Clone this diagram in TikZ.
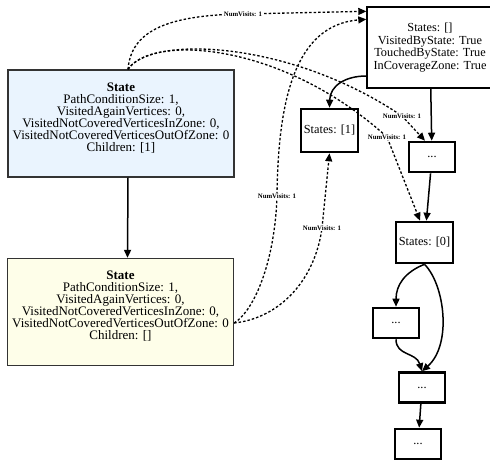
\documentclass[tikz,border=0pt]{standalone}
\usepackage{fontspec}
\setmainfont{Liberation Serif}
\usepackage{xcolor}
\usetikzlibrary{arrows.meta}

\definecolor{stateblue}{HTML}{EAF4FE}
\definecolor{stateyellow}{HTML}{FEFEE9}

\begin{document}
\begin{tikzpicture}[x=1pt, y=-1pt, >={Triangle[length=8pt, width=7pt]},
  statebox/.style={draw=black!80, line width=1.3pt, align=center, minimum width=226pt, minimum height=107pt, text depth=13pt, font=\fontsize{13}{12}\selectfont},
  vertex/.style={draw, line width=2.6pt, align=center, minimum width=46pt, minimum height=30pt, inner sep=1pt, font=\fontsize{12.3}{12.6}\selectfont},
  treeedge/.style={->, line width=1.5pt},
  visit/.style={->, line width=1.3pt, dash pattern=on 2.5pt off 2pt},
  visitlabel/.style={fill=white, inner sep=0.5pt, font=\fontsize{6.8}{7}\selectfont\bfseries}]
  \useasboundingbox (0,0) rectangle (490,460);

  % states
  \node[statebox, fill=stateblue] (s1) at (121,123.5) {\textbf{State}\\PathConditionSize: 1,\\VisitedAgainVertices: 0,\\VisitedNotCoveredVerticesInZone: 0,\\VisitedNotCoveredVerticesOutOfZone: 0\\Children: [1]};
  \node[statebox, fill=stateyellow] (s2) at (120.5,312) {\textbf{State}\\PathConditionSize: 1,\\VisitedAgainVertices: 0,\\VisitedNotCoveredVerticesInZone: 0,\\VisitedNotCoveredVerticesOutOfZone: 0\\Children: []};
  \draw[treeedge] ([xshift=7pt]s1.south) -- ([xshift=7pt]s2.north);

  % vertices
  \node[vertex, line width=1.4pt, minimum width=126pt, minimum height=81pt] (v0) at (430,47.5) {States: []\\VisitedByState: True\\TouchedByState: True\\InCoverageZone: True};
  \node[vertex, minimum width=57pt, minimum height=43pt] (v1) at (329.5,130.5) {States: [1]};
  \node[vertex] (d1) at (432,157) {...};
  \node[vertex, minimum width=57pt, minimum height=41pt] (v2) at (424.5,242.5) {States: [0]};
  \node[vertex] (d2) at (396,323) {...};
  \node[vertex] (d3) at (422,387.5) {...};
  \node[vertex] (d4) at (418,444) {...};

  \draw[treeedge] ([yshift=-28.5pt]v0.west) .. controls (345,76) and (330,86) .. (v1.north);
  \draw[treeedge] (v0) -- (d1);
  \draw[treeedge] (d1) -- (v2);
  \draw[treeedge] (v2.south) .. controls (405,272) and (396,285) .. (d2.north);
  \draw[treeedge] (v2.south) .. controls (445,285) and (452,345) .. (d3.north);
  \draw[treeedge] (d2.south) .. controls (396,356) and (416,352) .. (d3.north);
  \draw[treeedge] (d3) -- (d4);

  % visits
  \draw[visit] ([xshift=7pt]s1.north) .. controls (131,32) and (165,15) .. (243,14) node[visitlabel] (n1) {NumVisits: 1} -- ([yshift=-5pt]v0.north west);
  \draw[visit] ([xshift=7pt]s1.north) .. controls (150,35) and (290,40) .. (402,116) node[visitlabel] (n2) {NumVisits: 1} -- ([xshift=-7pt]d1.north);
  \draw[visit] ([xshift=7pt]s1.north) .. controls (150,35) and (280,40) .. (387,137) node[visitlabel] (n3) {NumVisits: 1} -- ([xshift=-4.5pt]v2.north);
  \draw[visit] ([yshift=-11pt]s2.east) .. controls (255,310) and (275,260) .. (277,196) node[visitlabel] (n4) {NumVisits: 1} .. controls (278,100) and (295,25) .. ([yshift=-13pt]v0.north west);
  \draw[visit] ([yshift=-11pt]s2.east) .. controls (280,318) and (315,280) .. (322,228) node[visitlabel] (n5) {NumVisits: 1} -- (v1.south);
\end{tikzpicture}
\end{document}
